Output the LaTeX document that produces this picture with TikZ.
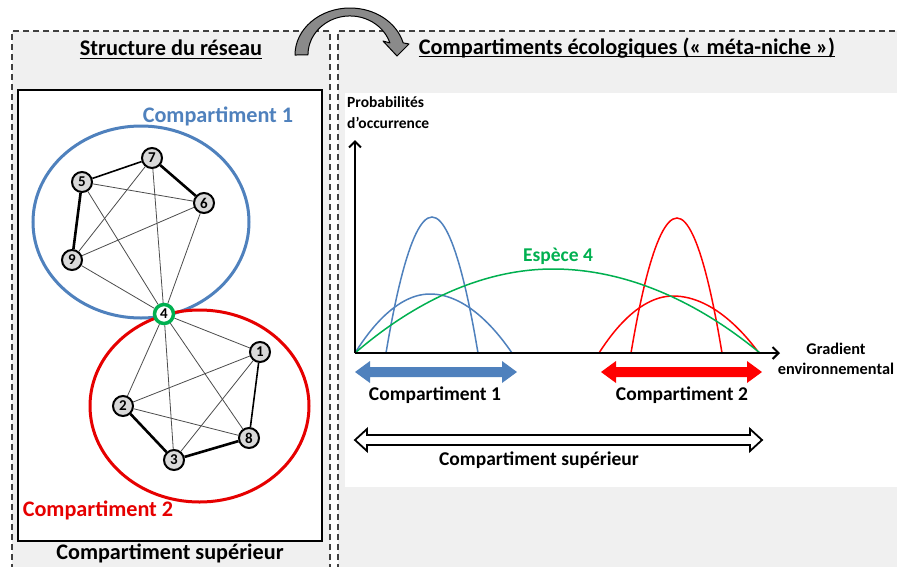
\documentclass[tikz,border=0pt]{standalone}
\usepackage{fontspec}
\setmainfont{Carlito}
\usetikzlibrary{arrows.meta}
\definecolor{panelgray}{HTML}{F0F0F0}
\definecolor{framegray}{HTML}{404040}
\definecolor{compblue}{HTML}{4F81BD}
\definecolor{ellred}{HTML}{E60000}
\definecolor{curvered}{HTML}{FF0000}
\definecolor{espgreen}{HTML}{00B050}
\definecolor{nodefill}{HTML}{D9D9D9}
\definecolor{arrowfill}{HTML}{8A8A8A}
\tikzset{
  panelborder/.style={draw=framegray, line width=1.4pt, dash pattern=on 6pt off 4pt},
  title/.style={inner sep=0pt, font=\bfseries\fontsize{22.3}{25}\selectfont},
  biglabel/.style={inner sep=0pt, font=\bfseries\fontsize{22.2}{25}\selectfont},
  axislabel/.style={inner sep=0pt, font=\bfseries\fontsize{15.5}{21}\selectfont},
  gradlabel/.style={inner sep=0pt, font=\bfseries\fontsize{16.3}{19.5}\selectfont},
  rangelabel/.style={inner sep=0pt, font=\bfseries\fontsize{19.5}{22}\selectfont},
  netnode/.style={circle, draw=black, line width=2pt, fill=nodefill, minimum size=20pt,
    inner sep=0pt, font=\bfseries\fontsize{15}{15}\selectfont},
  hubnode/.style={netnode, draw=espgreen, line width=3.5pt, fill=white, minimum size=19pt},
  weak/.style={draw=black!70, line width=0.8pt},
  mid/.style={draw=black, line width=1.6pt},
  strong/.style={draw=black, line width=2.6pt},
  niche/.style={line width=1.5pt},
  axis/.style={line width=2pt, -{Straight Barb[length=6pt, width=12pt, line width=2pt]}},
}
\begin{document}
\begin{tikzpicture}[x=1pt, y=-1pt]
\useasboundingbox (0,0) rectangle (897,566);
\clip (0,0) rectangle (897,566);

% panels
\fill[panelgray] (12,31) rectangle (330,580);
\fill[panelgray] (338,31) rectangle (910,580);
\draw[panelborder] (12,580) -- (12,31) -- (330,31) -- (330,580);
\draw[panelborder] (338,580) -- (338,31) -- (910,31);
\fill[white] (345,93) rectangle (897,487);
\draw[line width=2pt, fill=white] (18,90) rectangle (322,541);

% curved arrow between the panels
\draw[fill=arrowfill, line width=1pt, line join=round]
  (295,55) arc[start angle=180, end angle=345, x radius=55, y radius=47]
  -- (409,44) -- (397,56) -- (383,41)
  -- (389.9,42.9) arc[start angle=342, end angle=180, x radius=42, y radius=39]
  -- cycle;

% titles
\node[title] (t1) at (171,48) {Structure du réseau};
\draw[line width=1.2pt] ([yshift=-2.5pt]t1.base west) -- ([yshift=-2.5pt]t1.base east);
\node[title] (t2) at (627,48) {Compartiments écologiques (« méta-niche »)};
\draw[line width=1.2pt] ([yshift=-2.5pt]t2.base west) -- ([yshift=-2.5pt]t2.base east);

% compartments of the network
\draw[compblue, line width=3pt] (141,222) ellipse[x radius=108, y radius=96];
\draw[ellred, line width=3pt] (199.5,406) ellipse[x radius=109.5, y radius=96];
\node[biglabel, text=compblue] (c1) at (218,116) {Compartiment 1};
\node[biglabel, text=ellred] (c2) at (98,510) {Compartiment 2};
\node[biglabel] (csup) at (170,553) {Compartiment supérieur};

% species
\node[netnode] (n7) at (152,158) {7};
\node[netnode] (n5) at (82,182) {5};
\node[netnode] (n6) at (204,203) {6};
\node[netnode] (n9) at (72,260) {9};
\node[hubnode] (n4) at (164,314) {4};
\node[netnode] (n1) at (260,352) {1};
\node[netnode] (n2) at (123,406) {2};
\node[netnode] (n8) at (249,438) {8};
\node[netnode] (n3) at (174,460) {3};

% interactions
\draw[weak] (n5) -- (n6);
\draw[weak] (n5) -- (n4);
\draw[weak] (n7) -- (n9);
\draw[weak] (n7) -- (n4);
\draw[weak] (n6) -- (n9);
\draw[weak] (n6) -- (n4);
\draw[weak] (n9) -- (n4);
\draw[mid] (n5) -- (n7);
\draw[strong] (n7) -- (n6);
\draw[strong] (n5) -- (n9);
\draw[weak] (n4) -- (n1);
\draw[weak] (n4) -- (n2);
\draw[weak] (n4) -- (n3);
\draw[weak] (n4) -- (n8);
\draw[weak] (n2) -- (n1);
\draw[weak] (n2) -- (n8);
\draw[weak] (n3) -- (n1);
\draw[mid] (n1) -- (n8);
\draw[strong] (n2) -- (n3);
\draw[strong] (n3) -- (n8);

% niche plot
\coordinate (O) at (355,353);
\coordinate (ytop) at (355,140);
\coordinate (xend) at (780,353);
\draw[compblue, niche] (386,353) parabola bend (432,217) (478,353);
\draw[compblue, niche] (355,353) parabola bend (430,294) (512,353);
\draw[curvered, niche] (631,353) parabola bend (677,218) (722,353);
\draw[curvered, niche] (599,353) parabola bend (673,296) (759,353);
\draw[espgreen, niche] (355,353) parabola bend (553,269) (760,353);
\draw[axis] (O) -- (ytop);
\draw[axis] (O) -- (xend);
\node[axislabel, anchor=north west, align=left] (ylab) at (347,96) {Probabilités\\d’occurrence};
\node[gradlabel, align=center] (xlab) at (836,359) {Gradient\\environnemental};
\node[inner sep=0pt, font=\bfseries\fontsize{19.5}{22}\selectfont, text=espgreen] (sp4) at (558,256) {Espèce 4};

% ranges along the gradient
\fill[compblue] (355,372) -- (370,361) -- (370,367) -- (502,367) -- (502,361) -- (517,372)
  -- (502,383) -- (502,377) -- (370,377) -- (370,383) -- cycle;
\fill[curvered] (601,372) -- (616,361) -- (616,367) -- (747,367) -- (747,361) -- (762,372)
  -- (747,383) -- (747,377) -- (616,377) -- (616,383) -- cycle;
\draw[fill=white, line width=1.8pt, line join=miter]
  (355,440) -- (367,429) -- (367,435) -- (750,435) -- (750,429) -- (762,440)
  -- (750,451) -- (750,445) -- (367,445) -- (367,451) -- cycle;
\node[rangelabel] (r1) at (435,395) {Compartiment 1};
\node[rangelabel] (r2) at (682,395) {Compartiment 2};
\node[rangelabel] (r3) at (539,460) {Compartiment supérieur};
\end{tikzpicture}
\end{document}
